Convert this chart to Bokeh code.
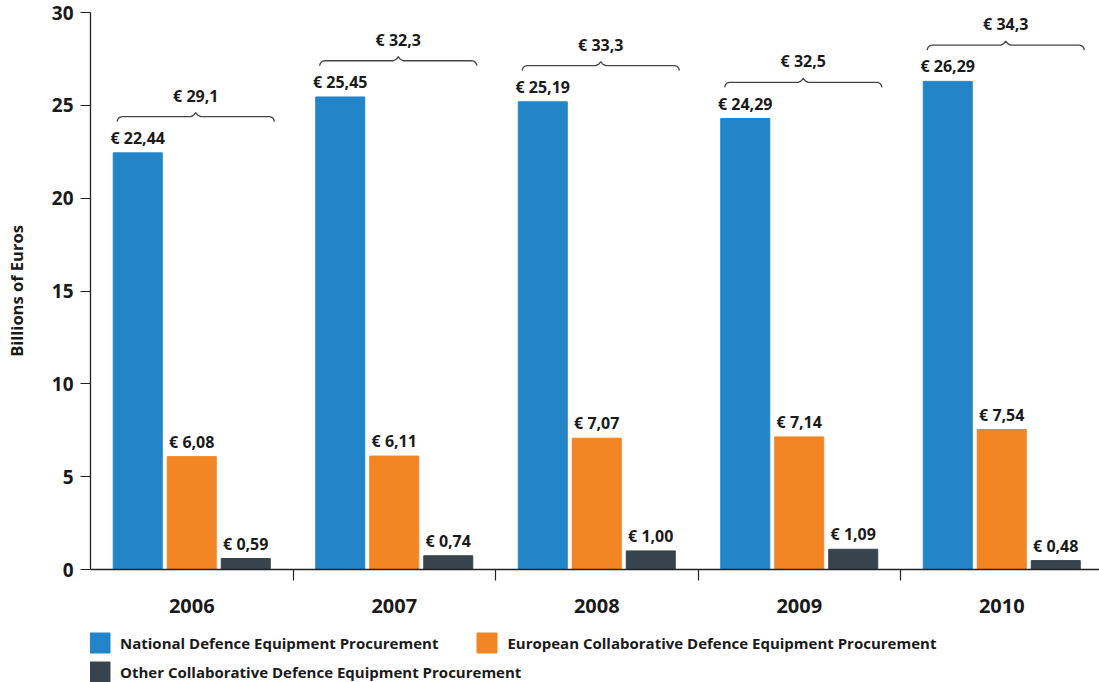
import math
from bokeh.plotting import figure
from bokeh.layouts import column
from bokeh.models import FixedTicker, Legend, LegendItem, ColumnDataSource, Range1d
from bokeh.embed import file_html
from bokeh.resources import INLINE
from bokeh.core.properties import value

years = ["2006", "2007", "2008", "2009", "2010"]
national = [22.44, 25.45, 25.19, 24.29, 26.29]
european = [6.08, 6.11, 7.07, 7.14, 7.54]
other = [0.59, 0.74, 1.00, 1.09, 0.48]
series_names = [
    "National Defence Equipment Procurement",
    "European Collaborative Defence Equipment Procurement",
    "Other Collaborative Defence Equipment Procurement",
]
colors = ["#2385c8", "#f28524", "#37444d"]
y_ticks = [0, 5, 10, 15, 20, 25, 30]
y_label = "Billions of Euros"

FONT = "Open Sans"
TXT = "#1a1a1a"

W = 1099
LEFT, TOP, BOTTOM = 90, 12, 52
FRAME_H = 557
H1 = TOP + FRAME_H + BOTTOM
FRAME_W = W - LEFT
CAT_PX = 202.5
X_END = FRAME_W / CAT_PX
px_x = 1.0 / CAT_PX
px_y = 30.0 / FRAME_H

p = figure(width=W, height=H1, x_range=Range1d(0, X_END), y_range=Range1d(0, 30),
           output_backend="svg", toolbar_location=None,
           min_border_left=LEFT, min_border_right=0, min_border_top=TOP,
           min_border_bottom=BOTTOM)
p.outline_line_color = None
p.xgrid.visible = False
p.ygrid.visible = False

# legend figure (below the chart)
H2 = 682 - H1
q = figure(width=W, height=H2, x_range=Range1d(0, 1), y_range=Range1d(0, 1),
           output_backend="svg", toolbar_location=None,
           x_axis_location=None, y_axis_location=None,
           min_border_left=LEFT, min_border_right=0, min_border_top=0,
           min_border_bottom=0)
q.outline_line_color = None
q.xgrid.visible = False
q.ygrid.visible = False

step = 54 * px_x
bw = 49 * px_x
series = [national, european, other]
proxies = []
for k, (vals, col) in enumerate(zip(series, colors)):
    xs = [i + 0.5 + (k - 1) * step for i in range(len(years))]
    src = ColumnDataSource(dict(x=xs, top=vals,
                                lab=["€ " + f"{v:.2f}".replace(".", ",") for v in vals]))
    p.vbar(x="x", top="top", width=bw, bottom=0, color=col, source=src)
    p.text(x="x", y="top", text="lab", source=src, text_align="center",
           text_baseline="bottom", y_offset=-4, text_font=value(FONT),
           text_font_style="bold", text_font_size="16px", text_color=TXT)
    proxy = q.vbar(x="x", top="top", width=bw, bottom=0, color=col,
                   source=ColumnDataSource(dict(x=xs, top=vals)))
    proxy.visible = False
    proxies.append(proxy)

# brackets with totals
totals = [a + b + c for a, b, c in zip(national, european, other)]
bx, by = [], []
tx, ty, tl = [], [], []
for i, (n, t) in enumerate(zip(national, totals)):
    xc = i + 0.5
    x1 = xc - step - bw / 2 + 4 * px_x
    x2 = xc + step + bw / 2 + 4 * px_x
    xm = (x1 + x2) / 2
    y = n + 1.95
    r = 5
    xs, ys = [], []
    for a in range(0, 91, 15):
        th = math.radians(a)
        xs.append(x1 + r * px_x * (1 - math.cos(th)))
        ys.append(y - r * px_y * (1 - math.sin(th)))
    xs += [xm - 5 * px_x, xm - 2 * px_x, xm, xm + 2 * px_x, xm + 5 * px_x]
    ys += [y, y + 1.5 * px_y, y + 4 * px_y, y + 1.5 * px_y, y]
    for a in range(90, -1, -15):
        th = math.radians(a)
        xs.append(x2 - r * px_x * (1 - math.cos(th)))
        ys.append(y - r * px_y * (1 - math.sin(th)))
    bx.append(xs)
    by.append(ys)
    tx.append(xm)
    ty.append(y)
    tl.append("€ " + f"{t:.1f}".replace(".", ","))

p.multi_line(xs=bx, ys=by, line_color="#444444", line_width=1.3)
p.text(x=tx, y=ty, text=tl, text_align="center", text_baseline="bottom",
       y_offset=-10, text_font=value(FONT), text_font_style="bold",
       text_font_size="16px", text_color=TXT)

# axes
xa = p.xaxis[0]
xa.ticker = FixedTicker(ticks=[i + 0.5 for i in range(len(years))],
                        minor_ticks=[i for i in range(1, len(years))])
xa.major_label_overrides = {i + 0.5: y for i, y in enumerate(years)}
xa.major_tick_out = 0
xa.major_tick_in = 0
xa.minor_tick_out = 11
xa.minor_tick_in = 0
xa.minor_tick_line_color = "#222222"
xa.minor_tick_line_width = 1.2
xa.axis_line_color = "#222222"
xa.axis_line_width = 1.3
xa.major_label_standoff = 18
xa.major_label_text_font = FONT
xa.major_label_text_font_style = "bold"
xa.major_label_text_font_size = "20px"
xa.major_label_text_color = TXT

ya = p.yaxis[0]
ya.ticker = FixedTicker(ticks=y_ticks)
ya.major_tick_out = 10
ya.major_tick_in = 0
ya.minor_tick_line_color = None
ya.major_tick_line_color = "#222222"
ya.major_tick_line_width = 1.2
ya.axis_line_color = "#222222"
ya.axis_line_width = 1.3
ya.major_label_standoff = 7
ya.major_label_text_font = FONT
ya.major_label_text_font_style = "bold"
ya.major_label_text_font_size = "19px"
ya.major_label_text_color = TXT
ya.axis_label = y_label
ya.axis_label_text_font = FONT
ya.axis_label_text_font_style = "bold"
ya.axis_label_text_font_size = "16.5px"
ya.axis_label_text_color = TXT
ya.axis_label_standoff = 21

def mk_legend(items, loc):
    return Legend(items=items, orientation="horizontal", location=loc,
                  glyph_width=25, glyph_height=25, label_standoff=8, spacing=36,
                  padding=0, margin=0, border_line_color=None,
                  background_fill_alpha=0, label_text_font=FONT,
                  label_text_font_style="bold", label_text_font_size="15px",
                  label_text_color=TXT, label_height=25)

lg1 = mk_legend([LegendItem(label=series_names[0], renderers=[proxies[0]]),
                 LegendItem(label=series_names[1], renderers=[proxies[1]])], (-3, 27))
lg2 = mk_legend([LegendItem(label=series_names[2], renderers=[proxies[2]])], (-3, -2))
q.add_layout(lg1, "center")
q.add_layout(lg2, "center")

layout = column(p, q, spacing=0)
open("out.html", "w").write(file_html(layout, INLINE))
